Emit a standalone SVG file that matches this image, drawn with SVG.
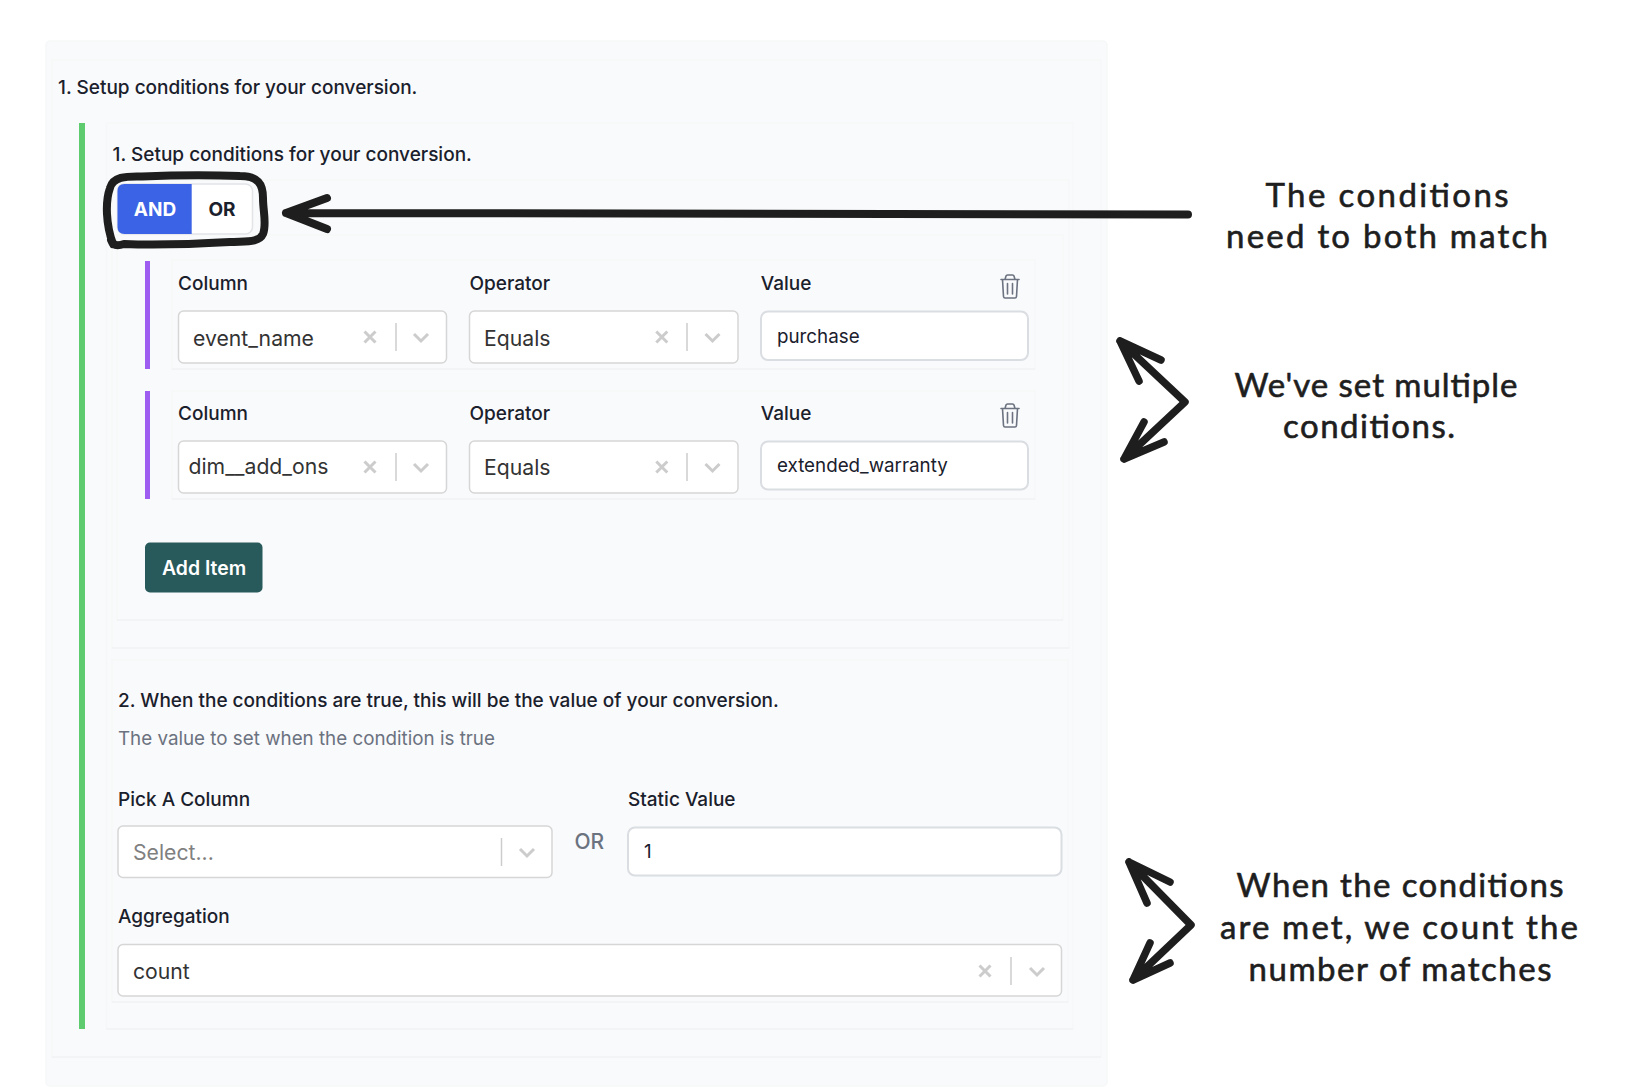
<svg xmlns="http://www.w3.org/2000/svg" width="1640" height="1090" viewBox="0 0 1640 1090">
<style>
text{font-family:"Inter","Liberation Sans",sans-serif}
.h{font-size:19px;font-weight:500;fill:#1a202c}
.l{font-size:19px;font-weight:500;fill:#1a202c}
.s{font-size:21.200px;fill:#333}
.i{font-size:18.800px;fill:#1a202c}
.g{fill:#6b7280}
.p{fill:#f9fafb;stroke:#f6f7f8;stroke-width:1.5}
.e{fill:none;stroke:#f1f2f4;stroke-width:1.5}
.f{fill:#fff;stroke:#d6d6d6;stroke-width:1.5}
.n{fill:#fff;stroke:#dadde1;stroke-width:2}
.ic{fill:none;stroke:#cccccc;stroke-width:3}
.sep{stroke:#cccccc;stroke-width:1.5}
.tr{fill:none;stroke:#6b7280;stroke-width:1.6;stroke-linecap:round;stroke-linejoin:round}
.ink{fill:none;stroke:#1e1e1e;stroke-linecap:round;stroke-linejoin:round}
.hand{font-family:"Lato",cursive;font-size:33px;fill:#1e1e1e;stroke:#1e1e1e;stroke-width:0.6;text-anchor:middle}
</style>
<defs>
<g id="x"><path class="ic" d="M-5.5 -5.5L5.5 5.5M5.5 -5.5L-5.5 5.5"/></g>
<g id="chev"><path class="ic" d="M-7 -3L0 4L7 -3"/></g>
<g id="trash"><path class="tr" d="M-9 -6.500H9M-7.500 -6.500L-6.500 10.500Q-6.300 12 -5 12H5Q6.300 12 6.500 10.500L7.500 -6.500M-5 -6.500L-4 -10Q-3.700 -11 -2.500 -11H2.500Q3.700 -11 4 -10L5 -6.500M-2.500 -2.500V8M2.500 -2.500V8"/></g>
</defs>
<rect width="1640" height="1090" fill="#fff"/>
<g id="panels">
<rect class="p" x="46" y="41" width="1061" height="1045" rx="4"/>
<rect class="p" x="52" y="60" width="1049" height="997"/>
<rect class="p" x="106.500" y="123" width="966.500" height="906"/>
<rect class="p" x="112" y="180" width="957" height="468"/>
<rect class="p" x="117" y="235" width="946" height="385"/>
<rect class="p" x="112" y="660" width="956" height="342"/>
<rect class="p" x="172" y="260" width="863" height="109"/>
<rect class="p" x="172" y="391" width="863" height="108"/>
<path class="e" d="M52 1057H1101M106.500 1029H1073M112 648H1069M117 620H1063M112 1002H1068M172 369H1035M172 499H1035"/>
<rect x="79" y="123" width="6" height="906" fill="#5fcb6f"/>
</g>
<g id="heading-outer"><text class="h" x="58" y="94">1. Setup conditions for your conversion.</text></g>
<g id="heading-inner"><text class="h" x="112.500" y="160.500">1. Setup conditions for your conversion.</text></g>
<g id="toggle">
<rect x="117.500" y="184" width="135" height="50" rx="7" fill="#fff" stroke="#e2e4e8" stroke-width="1.500"/>
<path d="M124.500 184H191.700V234H124.500Q117.500 234 117.500 227V191Q117.500 184 124.500 184Z" fill="#3b63e6"/>
<text x="155" y="216" font-size="19" font-weight="700" fill="#fff" text-anchor="middle">AND</text>
<text x="222" y="216" font-size="19" font-weight="700" fill="#1a202c" text-anchor="middle">OR</text>
</g>
<g id="row-1">
<rect x="145" y="261" width="5" height="108" fill="#9f5cf0"/>
<text class="l" x="178" y="290">Column</text>
<text class="l" x="469.500" y="290">Operator</text>
<text class="l" x="760.700" y="290">Value</text>
<use href="#trash" x="1010" y="286"/>
<rect class="f" x="178.500" y="311" width="268" height="52" rx="5"/>
<text class="s" x="193" y="346">event_name</text>
<use href="#x" x="370" y="337"/><line class="sep" x1="396" y1="323" x2="396" y2="351"/><use href="#chev" x="421" y="337"/>
<rect class="f" x="469.500" y="311" width="268.500" height="52" rx="5"/>
<text class="s" x="484" y="346">Equals</text>
<use href="#x" x="661.800" y="337"/><line class="sep" x1="687" y1="323" x2="687" y2="351"/><use href="#chev" x="712.500" y="337"/>
<rect class="n" x="761" y="311.500" width="267" height="48.500" rx="7"/>
<text class="i" x="777" y="342.500">purchase</text>
</g>
<g id="row-2">
<rect x="145" y="391" width="5" height="108" fill="#9f5cf0"/>
<text class="l" x="178" y="420">Column</text>
<text class="l" x="469.500" y="420">Operator</text>
<text class="l" x="760.700" y="420">Value</text>
<use href="#trash" x="1010" y="415"/>
<rect class="f" x="178.500" y="441" width="268" height="52" rx="5"/>
<text class="s" x="188.500" y="474">dim__add_ons</text>
<use href="#x" x="370" y="467"/><line class="sep" x1="396" y1="453" x2="396" y2="481"/><use href="#chev" x="421" y="467"/>
<rect class="f" x="469.500" y="441" width="268.500" height="52" rx="5"/>
<text class="s" x="484" y="475">Equals</text>
<use href="#x" x="661.800" y="467"/><line class="sep" x1="687" y1="453" x2="687" y2="481"/><use href="#chev" x="712.500" y="467"/>
<rect class="n" x="761" y="441.500" width="267" height="48" rx="7"/>
<text class="i" x="777" y="472">extended_warranty</text>
</g>
<g id="add-item">
<rect x="145" y="542.500" width="117.500" height="50" rx="5" fill="#28595b"/>
<text x="162" y="574.500" font-size="19.400" font-weight="600" fill="#fff">Add Item</text>
</g>
<g id="section-2">
<text class="h" x="118" y="706.500">2. When the conditions are true, this will be the value of your conversion.</text>
<text class="g" x="118" y="745" font-size="18.800">The value to set when the condition is true</text>
</g>
<g id="pick-column">
<text class="l" x="118" y="805.500">Pick A Column</text>
<rect class="f" x="118" y="826" width="434" height="51.500" rx="5"/>
<text x="133" y="860" font-size="21.200" fill="#808080">Select...</text>
<line class="sep" x1="501.500" y1="838" x2="501.500" y2="866"/><use href="#chev" x="527" y="852"/>
</g>
<g id="or-label"><text class="g" x="574.500" y="848.500" font-size="21" font-weight="500">OR</text></g>
<g id="static-value">
<text class="l" x="628" y="805.500">Static Value</text>
<rect class="n" x="628" y="827.500" width="433.500" height="48" rx="7"/>
<text class="i" x="644" y="858">1</text>
</g>
<g id="aggregation">
<text class="l" x="118" y="922.500">Aggregation</text>
<rect class="f" x="118" y="944.500" width="943.500" height="51.500" rx="5"/>
<text class="s" x="133" y="979">count</text>
<use href="#x" x="985" y="971"/><line class="sep" x1="1011" y1="957" x2="1011" y2="985"/><use href="#chev" x="1037" y="971"/>
</g>
<g id="connectors">
<path class="ink" stroke-width="8" d="M113 244C106 225 105 202 110 188C113 177 125 176 142 176.500C175 175 215 175 240 176C258 176 263 184 263 198C263 212 267 224 263 234C259 243 246 241 230 242C195 244 150 245 124 244C118 246 113 246 111 240"/>
<path class="ink" stroke-width="8" d="M1188 214.500C900 213 600 215 286 213M327 198L286 213L327 229"/>
<path class="ink" stroke-width="7.500" d="M1161 360L1120 341L1139 381M1120 341L1185 402L1124 459M1144 422L1124 459L1164 442"/>
<path class="ink" stroke-width="7.500" d="M1170 882L1129 862L1147 903M1129 862L1191 925L1133 980M1150 943L1133 980L1170 963"/>
</g>
<g id="note-1">
<text class="hand" x="1387" y="207" textLength="243" lengthAdjust="spacing">The conditions</text>
<text class="hand" x="1387" y="248" textLength="322" lengthAdjust="spacing">need to both match</text>
</g>
<g id="note-2">
<text class="hand" x="1376" y="397" textLength="283" lengthAdjust="spacing">We've set multiple</text>
<text class="hand" x="1369" y="438" textLength="172" lengthAdjust="spacing">conditions.</text>
</g>
<g id="note-3">
<text class="hand" x="1400" y="897" textLength="327" lengthAdjust="spacing">When the conditions</text>
<text class="hand" x="1399" y="939" textLength="358" lengthAdjust="spacing">are met, we count the</text>
<text class="hand" x="1400" y="981" textLength="303" lengthAdjust="spacing">number of matches</text>
</g>
</svg>
